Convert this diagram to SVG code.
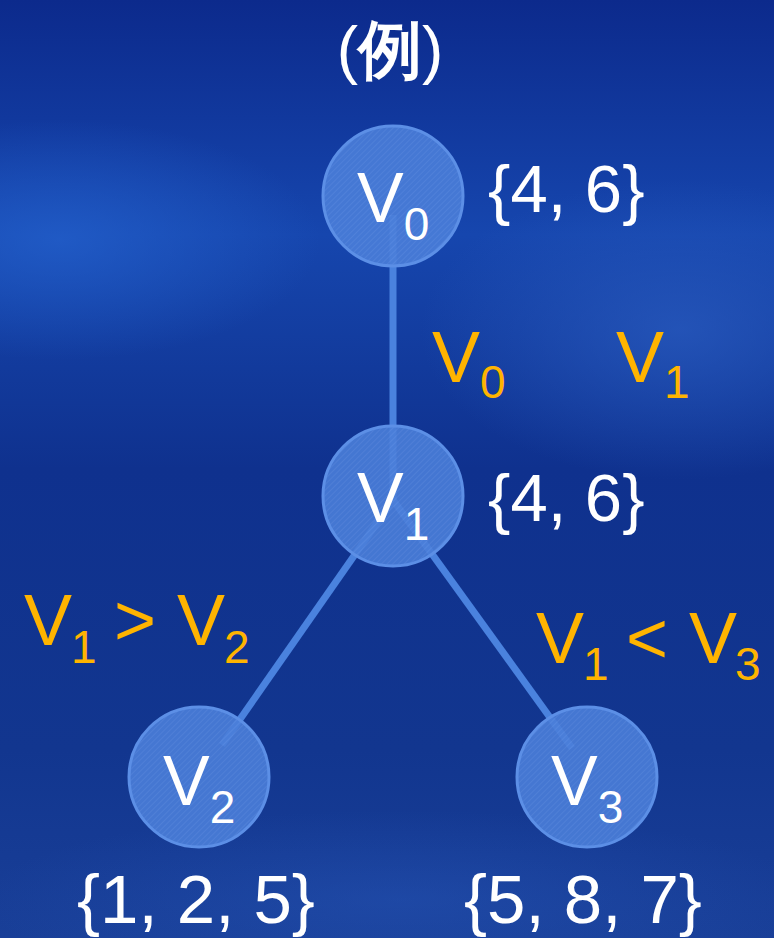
<svg xmlns="http://www.w3.org/2000/svg" width="774" height="938" viewBox="0 0 774 938">
  <defs>
    <linearGradient id="bg" x1="0" y1="0" x2="0" y2="1">
      <stop offset="0" stop-color="#0c2a8c"/>
      <stop offset="0.25" stop-color="#1646ae"/>
      <stop offset="0.5" stop-color="#0f318e"/>
      <stop offset="0.8" stop-color="#12368f"/>
      <stop offset="1" stop-color="#193f98"/>
    </linearGradient>
    <radialGradient id="glowL" cx="0.5" cy="0.5" r="0.5">
      <stop offset="0" stop-color="#2360cc" stop-opacity="0.75"/>
      <stop offset="1" stop-color="#2360cc" stop-opacity="0"/>
    </radialGradient>
    <radialGradient id="glowR" cx="0.5" cy="0.5" r="0.5">
      <stop offset="0" stop-color="#2a5cc0" stop-opacity="0.7"/>
      <stop offset="1" stop-color="#2a5cc0" stop-opacity="0"/>
    </radialGradient>
    <pattern id="hatch" width="4" height="4" patternUnits="userSpaceOnUse" patternTransform="rotate(45)">
      <rect width="4" height="4" fill="#4a7ed9"/>
      <line x1="0" y1="0" x2="0" y2="4" stroke="#7ea6ec" stroke-width="1" opacity="0.45"/>
    </pattern>
  </defs>
  <style>
    .node { fill: url(#hatch); fill-opacity: 0.9; stroke: #5c8fe6; stroke-width: 3; }
    .edge { stroke: #4a82de; stroke-width: 7; fill: none; }
    .lab { font-family: "Liberation Sans", Arial, sans-serif; fill: #ffffff; }
    .cond { font-family: "Liberation Sans", Arial, sans-serif; fill: #ffb400; font-size: 72px; }
    .sub { font-size: 46px; }
  </style>

  <rect width="774" height="938" fill="url(#bg)"/>
  <ellipse cx="60" cy="240" rx="260" ry="120" fill="url(#glowL)"/>
  <ellipse cx="680" cy="330" rx="260" ry="150" fill="url(#glowR)"/>
  <ellipse cx="400" cy="900" rx="420" ry="90" fill="url(#glowR)" opacity="0.5"/>

  <text class="lab" x="390" y="72" font-size="64" font-weight="bold" text-anchor="middle" font-family="'Liberation Sans','Noto Sans CJK SC',sans-serif"><tspan font-weight="normal">(</tspan>例<tspan font-weight="normal">)</tspan></text>

  <g id="connectors">
    <line class="edge" x1="393" y1="215" x2="393" y2="506"/>
    <line class="edge" x1="393" y1="500" x2="222" y2="745"/>
    <line class="edge" x1="393" y1="500" x2="572" y2="748"/>
  </g>

  <g id="V0">
    <circle class="node" cx="393" cy="196" r="70"/>
    <text class="lab" x="357" y="222" font-size="70">V<tspan class="sub" dy="18">0</tspan></text>
  </g>
  <g id="V1">
    <circle class="node" cx="393" cy="496" r="70"/>
    <text class="lab" x="357" y="522" font-size="70">V<tspan class="sub" dy="18">1</tspan></text>
  </g>
  <g id="V2">
    <circle class="node" cx="199" cy="777" r="70"/>
    <text class="lab" x="163" y="805" font-size="70">V<tspan class="sub" dy="18">2</tspan></text>
  </g>
  <g id="V3">
    <circle class="node" cx="587" cy="777" r="70"/>
    <text class="lab" x="551" y="805" font-size="70">V<tspan class="sub" dy="18">3</tspan></text>
  </g>

  <g id="sets">
    <text class="lab" x="488" y="212" font-size="67">{4, 6}</text>
    <text class="lab" x="488" y="521" font-size="67">{4, 6}</text>
    <text class="lab" x="77" y="923" font-size="69">{1, 2, 5}</text>
    <text class="lab" x="464" y="923" font-size="69">{5, 8, 7}</text>
  </g>

  <g id="conditions">
    <text class="cond" x="432" y="382">V<tspan class="sub" dy="16">0</tspan></text>
    <text class="cond" x="616" y="382">V<tspan class="sub" dy="16">1</tspan></text>
    <text class="cond" y="645"><tspan x="24">V</tspan><tspan class="sub" x="71" dy="18">1</tspan><tspan x="114" dy="-18">&gt;</tspan><tspan x="177">V</tspan><tspan class="sub" x="224" dy="18">2</tspan></text>
    <text class="cond" y="663"><tspan x="536">V</tspan><tspan class="sub" x="583" dy="17">1</tspan><tspan x="626" dy="-17">&lt;</tspan><tspan x="689">V</tspan><tspan class="sub" x="735" dy="17">3</tspan></text>
  </g>
</svg>
